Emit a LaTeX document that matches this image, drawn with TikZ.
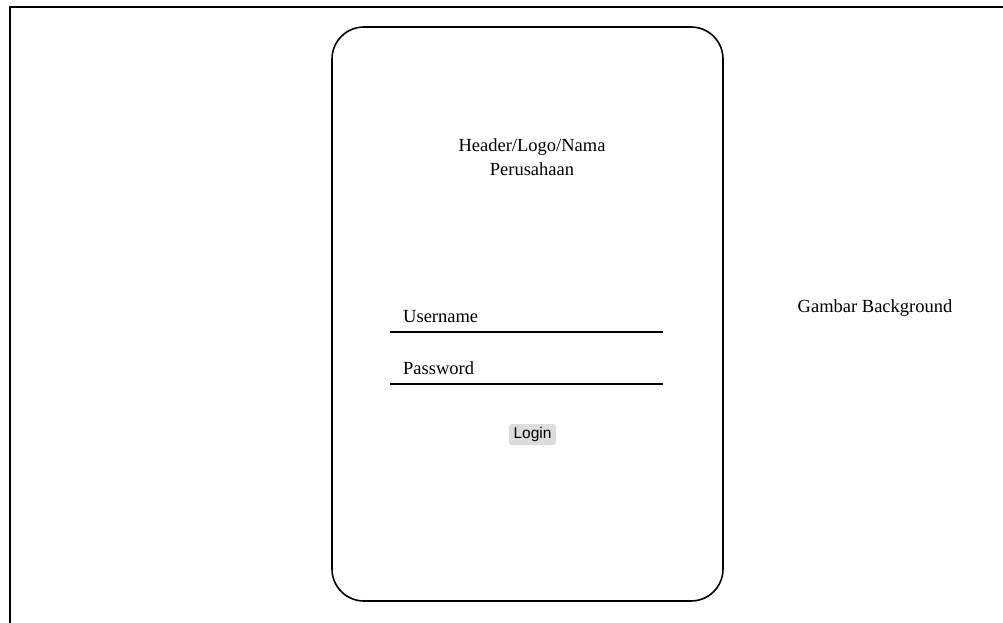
\documentclass[tikz,border=0pt]{standalone}
\usepackage{fontspec}
\setmainfont{Liberation Serif}
\newfontfamily\uisans{Liberation Sans}
\usetikzlibrary{positioning}
\definecolor{btnGray}{RGB}{221,221,221}
\tikzset{loginpage/.style={
  x=1pt, y=-1pt,
  frame/.style={line width=2pt, black},
  card/.style={rounded corners=32pt, draw=black, line width=1.6pt, minimum width=391pt, minimum height=574pt, inner sep=0pt},
  label/.style={font=\fontsize{18.5}{24}\selectfont, align=center, inner sep=0pt},
  field/.style={font=\fontsize{18.5}{24}\selectfont, inner sep=0pt, inner xsep=13pt, inner ysep=9pt, text depth=0pt, text width=247pt, align=left, anchor=south west},
  uline/.style={line width=2pt, black},
  button/.style={fill=btnGray, rounded corners=2.5pt, font=\uisans\fontsize{15.5}{18}\selectfont, inner xsep=4.5pt, inner ysep=2.5pt, minimum height=21pt},
}}
\begin{document}
\begin{tikzpicture}[loginpage]
\useasboundingbox (0,0) rectangle (1003,623);

% ---- outer frame (cut by the page on the right and bottom) ----
\draw[frame] (10,623) -- (10,7) -- (1003,7);

% ---- login card ----
\node[card] (box) at (527.5,314) {};
\node[label] (head) at (532,157.5) {Header/Logo/Nama\\Perusahaan};

% ---- input fields ----
\node[field] (user) at (390,332) {Username};
\draw[uline] (user.south west) -- (user.south east);
\node[field] (pass) at (390,384) {Password};
\draw[uline] (pass.south west) -- (pass.south east);

% ---- button ----
\node[button] (login) at (532.5,434.5) {Login};

% ---- background hint ----
\node[label] (bg) at (875,308.5) {Gambar Background};

\end{tikzpicture}
\end{document}
